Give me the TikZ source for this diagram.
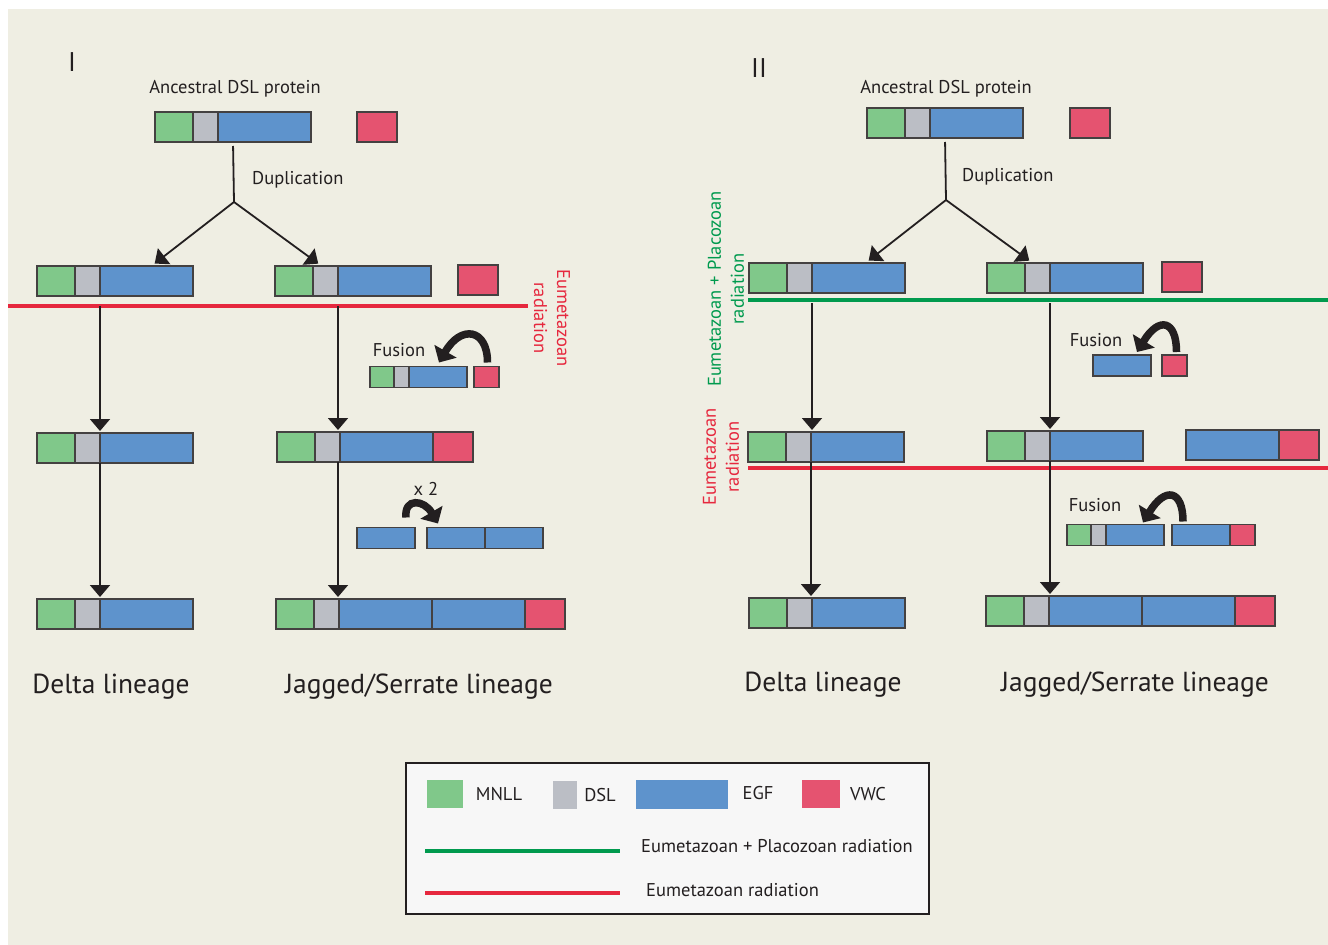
\documentclass[tikz,border=0pt]{standalone}
\usepackage{fontspec}
\setmainfont{PT Sans}
\usepackage{tikz}
\usetikzlibrary{arrows.meta,positioning,calc}
\definecolor{bg}{RGB}{239,238,227}
\definecolor{ink}{RGB}{35,31,32}
\definecolor{cMNLL}{RGB}{128,200,138}
\definecolor{cDSL}{RGB}{187,190,197}
\definecolor{cEGF}{RGB}{94,147,204}
\definecolor{cVWC}{RGB}{229,83,112}
\definecolor{radG}{RGB}{0,154,78}
\definecolor{radR}{RGB}{230,40,62}
\definecolor{legbg}{RGB}{247,247,247}

\begin{document}
\begin{tikzpicture}[x=1pt,y=-1pt,
 every node/.style={font=\fontsize{18.5}{23}\selectfont,text=ink,align=center,inner sep=0pt},
 seg/.style={draw=ink!85,line width=1.5pt,inner sep=0pt,outer sep=0pt,minimum height=30pt},
 mnll/.style={seg,fill=cMNLL,minimum width=38pt},
 dsl/.style={seg,fill=cDSL,minimum width=25pt},
 egf/.style={seg,fill=cEGF,minimum width=93pt},
 vwc/.style={seg,fill=cVWC,minimum width=40pt},
 smnll/.style={mnll,minimum width=24pt,minimum height=21pt},
 sdsl/.style={dsl,minimum width=15pt,minimum height=21pt},
 segf/.style={egf,minimum width=58pt,minimum height=21pt},
 svwc/.style={vwc,minimum width=25pt,minimum height=21pt},
 key/.style={inner sep=0pt,minimum height=28pt},
 arr/.style={draw=ink,line width=1.8pt,-{Triangle[length=12pt,width=20pt]}},
 curlarrow/.style={draw=ink,line width=7.5pt,-{Triangle[length=13pt,width=25pt]}},
 lineage/.style={font=\fontsize{27.5}{32}\selectfont},
 radiation/.style={line width=4pt}]
\useasboundingbox (0,0) rectangle (1328,945);
\fill[bg] (8,9) rectangle (1328,945);

% panel I
\node[font=\fontsize{27}{30}\selectfont] (Inum) at (72,62) {I};
\node (Ititle) at (235,89) {Ancestral DSL protein};
\node[mnll,anchor=west] (IaM) at (155,127) {};
\node[dsl,right=0pt of IaM] (IaD) {};
\node[egf,right=0pt of IaD] (IaE) {};
\node[vwc,anchor=west] (IaV) at (357,127) {};
\coordinate (Ibr) at (234,202);
\node[anchor=west] (Idup) at (252,180) {Duplication};

\node[mnll,anchor=west] (IbM) at (37,281) {};
\node[dsl,right=0pt of IbM] (IbD) {};
\node[egf,right=0pt of IbD] (IbE) {};
\node[mnll,anchor=west] (IcM) at (275,281) {};
\node[dsl,right=0pt of IcM] (IcD) {};
\node[egf,right=0pt of IcD] (IcE) {};
\node[vwc,anchor=west] (IcV) at (458,280) {};

\draw[radiation,radR] (8,306) -- (528,306);
\node[rotate=-90,text=radR] (Irad) at (552,318) {Eumetazoan\\radiation};

\node (Ifus) at (399,350) {Fusion};
\node[smnll,anchor=west] (IfM) at (370,377) {};
\node[sdsl,right=0pt of IfM] (IfD) {};
\node[segf,right=0pt of IfD] (IfE) {};
\node[svwc,anchor=west] (IfV) at (474,377) {};

\node[mnll,anchor=west] (IdM) at (37,448) {};
\node[dsl,right=0pt of IdM] (IdD) {};
\node[egf,right=0pt of IdD] (IdE) {};
\node[mnll,anchor=west] (IeM) at (277,447) {};
\node[dsl,right=0pt of IeM] (IeD) {};
\node[egf,right=0pt of IeD] (IeE) {};
\node[vwc,right=0pt of IeE] (IeV) {};

\node (Ix2) at (426,489) {x 2};
\node[segf,anchor=west] (IxA) at (357,538) {};
\node[segf,anchor=west] (IxB) at (427,538) {};
\node[segf,right=0pt of IxB] (IxC) {};

\node[mnll,anchor=west] (IgM) at (37,614) {};
\node[dsl,right=0pt of IgM] (IgD) {};
\node[egf,right=0pt of IgD] (IgE) {};
\node[mnll,anchor=west] (IhM) at (276,614) {};
\node[dsl,right=0pt of IhM] (IhD) {};
\node[egf,right=0pt of IhD] (IhE) {};
\node[egf,right=0pt of IhE] (IhF) {};
\node[vwc,right=0pt of IhF] (IhV) {};

\node[lineage] (Idelta) at (111,687) {Delta lineage};
\node[lineage] (Ijag) at (419,687) {Jagged/Serrate lineage};

\draw[draw=ink,line width=1.8pt,shorten <=4pt] ($(IaM.south west)!0.5!(IaE.south east)$) -- (Ibr);
\draw[arr,shorten >=4pt] (Ibr) -- ($(IbE.north)+(5,0)$);
\draw[arr,shorten >=4pt] (Ibr) -- ($(IcD.north)+(-4,0)$);
\draw[arr,shorten <=10pt,shorten >=2pt] (IbD.south east) -- (IbD.south east |- IdD.north);
\draw[arr,shorten <=10pt,shorten >=2pt] (IcD.south east) -- (IcD.south east |- IeD.north);
\draw[arr,shorten >=2pt] (IdD.south east) -- (IdD.south east |- IgD.north);
\draw[arr,shorten >=2pt] (IcD.south east |- IeD.south) -- (IcD.south east |- IhD.north);
\draw[curlarrow] ($(IfV.north)+(1,-4)$) .. controls +(0,-34) and +(22,-38) .. ($(IfE.north east)+(-28,-4)$);
\draw[curlarrow] ($(IxA.north east)+(-9,-10)$) .. controls +(-2,-20) and +(-14,-24) .. ($(IxB.north west)+(11,-4)$);

% panel II
\node[font=\fontsize{27}{30}\selectfont] (IInum) at (759,68) {II};
\node (IItitle) at (946,89) {Ancestral DSL protein};
\node[mnll,anchor=west] (IIaM) at (867,123) {};
\node[dsl,right=0pt of IIaM] (IIaD) {};
\node[egf,right=0pt of IIaD] (IIaE) {};
\node[vwc,anchor=west] (IIaV) at (1070,123) {};
\coordinate (IIbr) at (946,200);
\node[anchor=west] (IIdup) at (962,177) {Duplication};

\node[mnll,anchor=west] (IIbM) at (749,278) {};
\node[dsl,right=0pt of IIbM] (IIbD) {};
\node[egf,right=0pt of IIbD] (IIbE) {};
\node[mnll,anchor=west] (IIcM) at (987,278) {};
\node[dsl,right=0pt of IIcM] (IIcD) {};
\node[egf,right=0pt of IIcD] (IIcE) {};
\node[vwc,anchor=west] (IIcV) at (1162,277) {};

\draw[radiation,radG] (748,300) -- (1328,300);
\node[rotate=90,text=radG] (IIradG) at (726,289) {Eumetazoan + Placozoan\\radiation};

\node (IIfus) at (1096,340) {Fusion};
\node[segf,anchor=west] (IIfE) at (1093,365.5) {};
\node[svwc,anchor=west] (IIfV) at (1162,365.5) {};

\node[mnll,anchor=west] (IIdM) at (748,447) {};
\node[dsl,right=0pt of IIdM] (IIdD) {};
\node[egf,right=0pt of IIdD] (IIdE) {};
\node[mnll,anchor=west] (IIeM) at (987,446) {};
\node[dsl,right=0pt of IIeM] (IIeD) {};
\node[egf,right=0pt of IIeD] (IIeE) {};
\node[egf,anchor=west] (IIeF) at (1186,445) {};
\node[vwc,right=0pt of IIeF] (IIeV) {};

\draw[radiation,radR] (748,468) -- (1328,468);
\node[rotate=90,text=radR] (IIradR) at (721,457) {Eumetazoan\\radiation};

\node (IIfus2) at (1095,505) {Fusion};
\node[smnll,anchor=west] (IIgM) at (1067,535) {};
\node[sdsl,right=0pt of IIgM] (IIgD) {};
\node[segf,right=0pt of IIgD] (IIgE) {};
\node[segf,anchor=west] (IIgF) at (1172,535) {};
\node[svwc,right=0pt of IIgF] (IIgV) {};

\node[mnll,anchor=west] (IIhM) at (749,613) {};
\node[dsl,right=0pt of IIhM] (IIhD) {};
\node[egf,right=0pt of IIhD] (IIhE) {};
\node[mnll,anchor=west] (IIiM) at (986,611) {};
\node[dsl,right=0pt of IIiM] (IIiD) {};
\node[egf,right=0pt of IIiD] (IIiE) {};
\node[egf,right=0pt of IIiE] (IIiF) {};
\node[vwc,right=0pt of IIiF] (IIiV) {};

\node[lineage] (IIdelta) at (823,685) {Delta lineage};
\node[lineage] (IIjag) at (1135,685) {Jagged/Serrate lineage};

\draw[draw=ink,line width=1.8pt,shorten <=4pt] ($(IIaM.south west)!0.5!(IIaE.south east)$) -- (IIbr);
\draw[arr,shorten >=4pt] (IIbr) -- ($(IIbE.north)+(7,0)$);
\draw[arr,shorten >=4pt] (IIbr) -- ($(IIcD.north)+(-5,0)$);
\draw[arr,shorten <=10pt,shorten >=2pt] (IIbD.south east) -- (IIbD.south east |- IIdD.north);
\draw[arr,shorten <=10pt,shorten >=2pt] (IIcD.south east) -- (IIcD.south east |- IIeD.north);
\draw[arr,shorten >=2pt] (IIdD.south east) -- (IIdD.south east |- IIhD.north);
\draw[arr,shorten >=2pt] (IIeD.south east) -- (IIeD.south east |- IIiD.north);
\draw[curlarrow] ($(IIfV.north)+(2,-3)$) .. controls +(0,-32) and +(22,-36) .. ($(IIfE.north east)+(-14,-3)$);
\draw[curlarrow] ($(IIgF.north west)+(11,-3)$) .. controls +(0,-32) and +(22,-36) .. ($(IIgE.north east)+(-21,-2)$);

% legend
\draw[draw=ink,line width=1.5pt,fill=legbg] (406,763) rectangle (929,914);
\node[key,fill=cMNLL,minimum width=36pt] (kM) at (445,794) {};
\node (kMt) at (499,794) {MNLL};
\node[key,fill=cDSL,minimum width=24pt] (kD) at (565,795) {};
\node (kDt) at (600,795) {DSL};
\node[key,fill=cEGF,minimum width=92pt,minimum height=29pt] (kE) at (682,794.5) {};
\node (kEt) at (758,793) {EGF};
\node[key,fill=cVWC,minimum width=38pt] (kV) at (821,794) {};
\node (kVt) at (868,794) {VWC};
\draw[radiation,radG] (425,851) -- (620,851);
\node[anchor=west] (kGt) at (641,846) {Eumetazoan + Placozoan radiation};
\draw[radiation,radR] (425,893) -- (620,893);
\node[anchor=west] (kRt) at (646,890) {Eumetazoan radiation};
\end{tikzpicture}
\end{document}
